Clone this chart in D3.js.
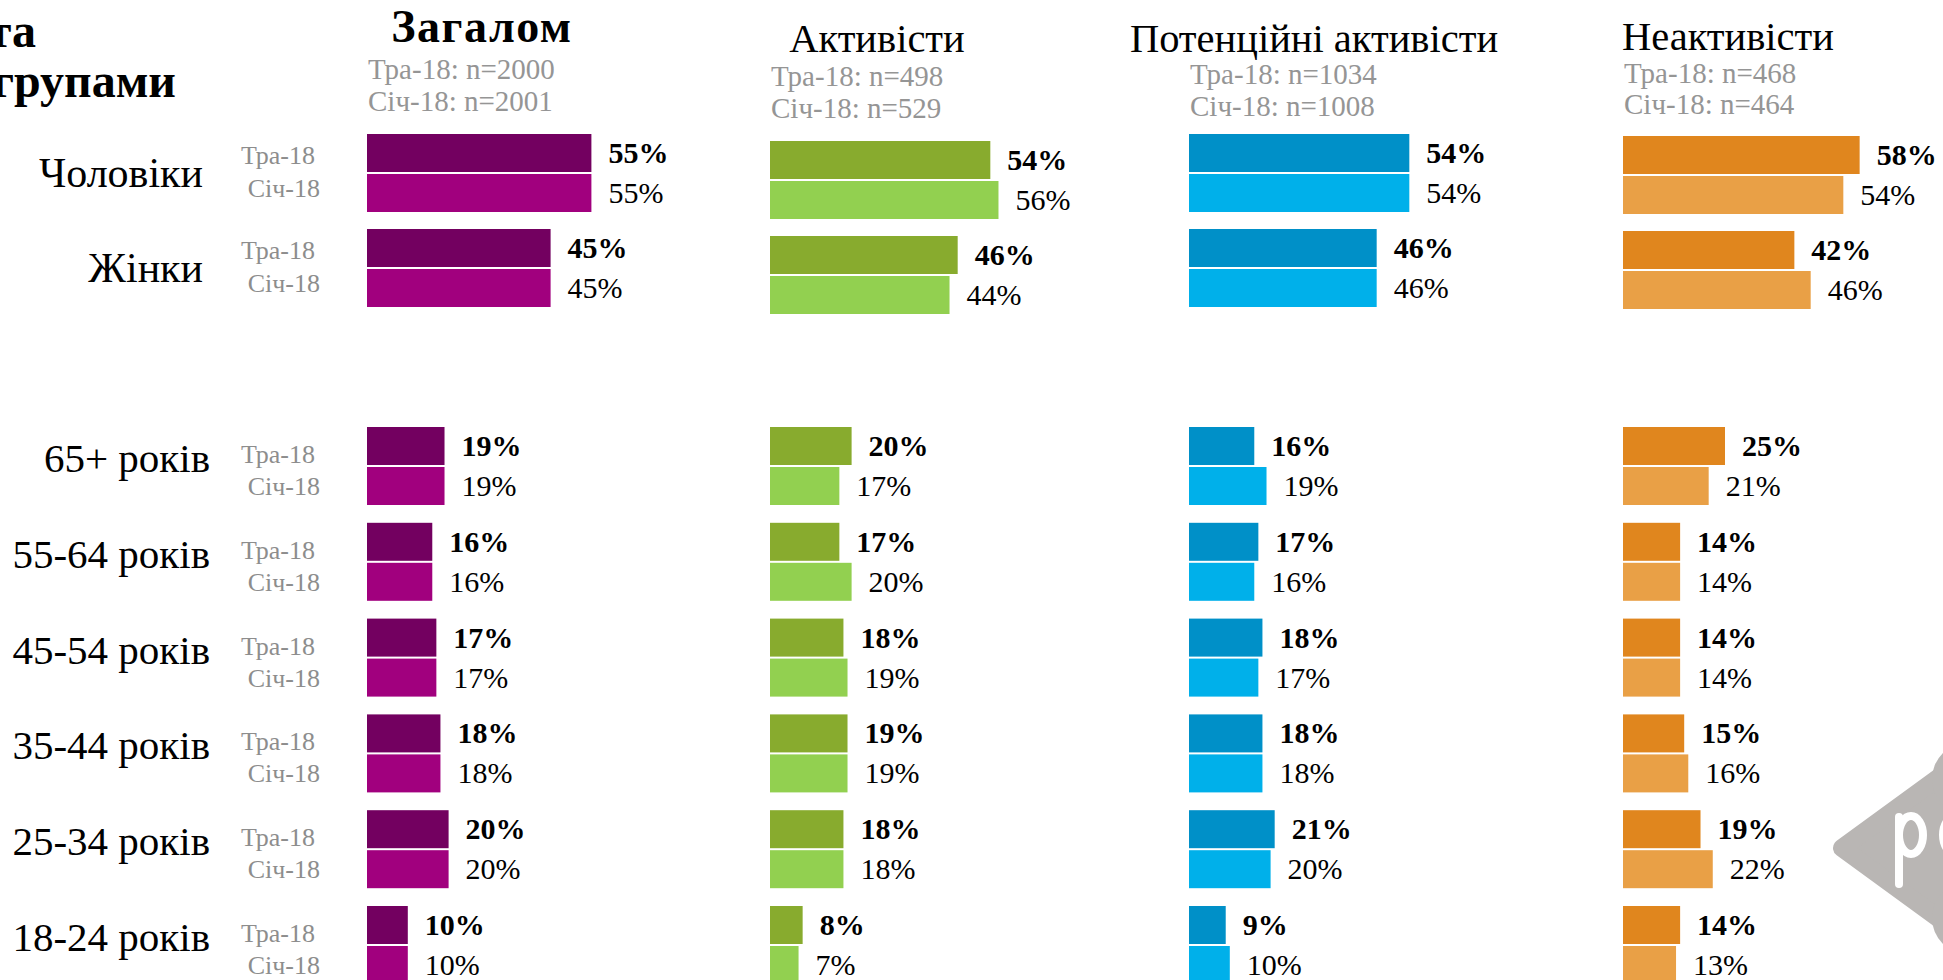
<style type="text/css">
html, body{
	padding: 0;
	margin: 0;
	background: #fff;
}
text{
	font-family: "Liberation Serif", serif;
}
</style>

<svg width=1943 height=980></svg>

<script type="text/javascript" src="https://cdn.jsdelivr.net/npm/d3@7/dist/d3.min.js"></script>

<script type="text/javascript">
var panels = ["Загалом","Активісти","Потенційні активісти","Неактивісти"];
var sampleTra = ["Тра-18: n=2000","Тра-18: n=498","Тра-18: n=1034","Тра-18: n=468"];
var sampleSich = ["Січ-18: n=2001","Січ-18: n=529","Січ-18: n=1008","Січ-18: n=464"];
var waves = ["Тра-18","Січ-18"];
var genders = ["Чоловіки","Жінки"];
var ages = ["65+ років","55-64 років","45-54 років","35-44 років","25-34 років","18-24 років"];

// per panel, per category
var genderTra  = [[55,45],[54,46],[54,46],[58,42]];
var genderSich = [[55,45],[56,44],[54,46],[54,46]];
var ageTra  = [[19,16,17,18,20,10],[20,17,18,19,18,8],[16,17,18,18,21,9],[25,14,14,15,19,14]];
var ageSich = [[19,16,17,18,20,10],[17,20,19,19,18,7],[19,16,17,18,20,10],[21,14,14,16,22,13]];

var colorTra  = ["#730060","#88AB2E","#0090C8","#E0861E"];
var colorSich = ["#A1007E","#92D050","#00B0EA","#E9A046"];

var svg = d3.select('svg');

var px = d3.scaleOrdinal().domain(panels).range([367,770,1189,1623]);
var x = d3.scaleLinear().domain([0,100]).range([0,408]);
var gy = d3.scalePoint().domain(genders).range([134,229]);
var ay = d3.scalePoint().domain(ages).range([427,906]);
var wy = d3.scaleBand().domain(waves).range([0,78]).paddingInner(0.05);
var gShift = [0,7,0,2];

var rows = [];
panels.forEach((p,i)=>{
	genders.forEach((g,j)=>{
		rows.push({panel:p,i:i,top:gy(g)+gShift[i],wave:waves[0],v:genderTra[i][j]});
		rows.push({panel:p,i:i,top:gy(g)+gShift[i],wave:waves[1],v:genderSich[i][j]});
	});
	ages.forEach((a,j)=>{
		rows.push({panel:p,i:i,top:ay(a),wave:waves[0],v:ageTra[i][j]});
		rows.push({panel:p,i:i,top:ay(a),wave:waves[1],v:ageSich[i][j]});
	});
});

svg.selectAll('rect.bar')
	.data(rows)
	.enter()
	.append('rect')
	.attr('class','bar')
	.attr('x',d=>px(d.panel))
	.attr('y',d=>d.top+wy(d.wave))
	.attr('width',d=>x(d.v))
	.attr('height',wy.bandwidth())
	.style('fill',d=>d.wave==waves[0]?colorTra[d.i]:colorSich[d.i]);

svg.selectAll('text.val')
	.data(rows)
	.enter()
	.append('text')
	.attr('class','val')
	.attr('x',d=>px(d.panel)+x(d.v)+17)
	.attr('y',d=>d.top+wy(d.wave)+wy.bandwidth()/2+10)
	.style('font-size','30px')
	.style('font-weight',d=>d.wave==waves[0]?'bold':'normal')
	.style('fill','#000')
	.text(d=>d.v+'%');

// category labels
svg.selectAll('text.gcat')
	.data(genders)
	.enter()
	.append('text')
	.attr('x',203)
	.attr('y',d=>gy(d)+53)
	.attr('text-anchor','end')
	.style('font-size','42px')
	.text(d=>d);

svg.selectAll('text.acat')
	.data(ages)
	.enter()
	.append('text')
	.attr('x',210)
	.attr('y',d=>ay(d)+45)
	.attr('text-anchor','end')
	.style('font-size','41px')
	.text(d=>d);

// wave labels
genders.forEach(g=>{
	svg.append('text').attr('x',315).attr('y',gy(g)+30).attr('text-anchor','end')
		.style('font-size','26px').style('fill','#8d8d8d').text(waves[0]);
	svg.append('text').attr('x',320).attr('y',gy(g)+63).attr('text-anchor','end')
		.style('font-size','26px').style('fill','#8d8d8d').text(waves[1]);
});
ages.forEach(a=>{
	svg.append('text').attr('x',315).attr('y',ay(a)+36).attr('text-anchor','end')
		.style('font-size','26px').style('fill','#8d8d8d').text(waves[0]);
	svg.append('text').attr('x',320).attr('y',ay(a)+68).attr('text-anchor','end')
		.style('font-size','26px').style('fill','#8d8d8d').text(waves[1]);
});

// panel titles
var titleX = [482,877,1314,1728];
var titleY = [42,52,52,50];
var subY = [[79,111],[86,118],[84,116],[83,114]];
svg.selectAll('text.title')
	.data(panels)
	.enter()
	.append('text')
	.attr('x',(d,i)=>titleX[i])
	.attr('y',(d,i)=>titleY[i])
	.attr('text-anchor','middle')
	.style('font-size',(d,i)=>i==0?'46px':'40.5px')
	.style('font-weight',(d,i)=>i==0?'bold':'normal')
	.style('letter-spacing',(d,i)=>i==0?'1.5px':'0px')
	.text(d=>d);

svg.selectAll('text.sub1')
	.data(sampleTra)
	.enter()
	.append('text')
	.attr('x',(d,i)=>px(panels[i])+1)
	.attr('y',(d,i)=>subY[i][0])
	.style('font-size','29px')
	.style('fill','#959595')
	.text(d=>d);
svg.selectAll('text.sub2')
	.data(sampleSich)
	.enter()
	.append('text')
	.attr('x',(d,i)=>px(panels[i])+1)
	.attr('y',(d,i)=>subY[i][1])
	.style('font-size','29px')
	.style('fill','#959595')
	.text(d=>d);

// slide title, cut by the left edge as in the source
svg.append('text').attr('x',36).attr('y',47).attr('text-anchor','end')
	.style('font-size','48px').style('font-weight','bold').text('та');
svg.append('text').attr('x',176).attr('y',97).attr('text-anchor','end')
	.style('font-size','48px').style('font-weight','bold').text('групами');

// logo in the corner
var logo = svg.append('g').style('fill','#b9b6b4');
logo.append('path')
	.attr('d','M1842,848 L1990,740 L2140,848 L1990,956 Z')
	.style('stroke','#b9b6b4').style('stroke-width',18).style('stroke-linejoin','round');
logo.append('circle').attr('cx',1968).attr('cy',779).attr('r',36);
logo.append('circle').attr('cx',1968).attr('cy',918).attr('r',36);
logo.append('line').attr('x1',1899).attr('y1',817).attr('x2',1899).attr('y2',884)
	.style('stroke','#fff').style('stroke-width',8).style('stroke-linecap','round');
logo.append('ellipse').attr('cx',1911).attr('cy',835).attr('rx',12).attr('ry',19)
	.style('fill','none').style('stroke','#fff').style('stroke-width',8);
logo.append('ellipse').attr('cx',1956).attr('cy',835).attr('rx',13).attr('ry',19)
	.style('fill','none').style('stroke','#fff').style('stroke-width',8);
</script>
